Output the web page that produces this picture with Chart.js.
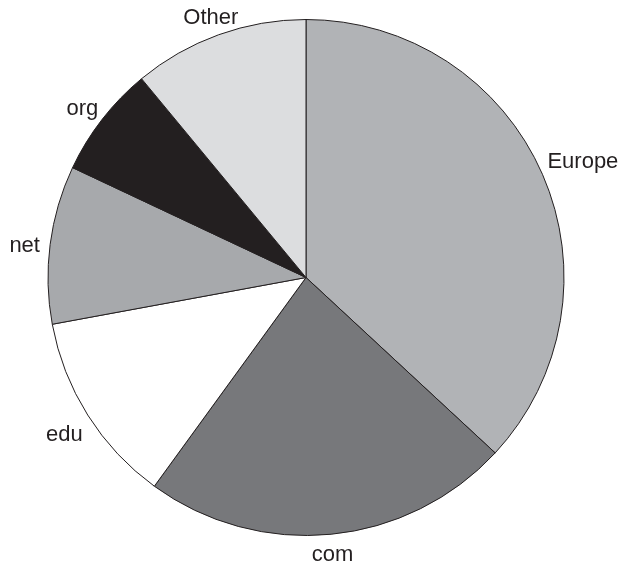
<!DOCTYPE html>
<html>
<head>
<meta charset="utf-8">
<script src="https://cdn.jsdelivr.net/npm/chart.js@4"></script>
<style>
  html, body { margin: 0; padding: 0; background: #fff; }
  #wrap { width: 626px; height: 564px; }
</style>
</head>
<body>
<div id="wrap"><canvas id="pie"></canvas></div>
<script>
// slice data, clockwise from 12 o'clock
const categories = ['Europe', 'com', 'edu', 'net', 'org', 'Other'];
const shares = [36.9, 23.1, 12.1, 9.9, 7.0, 11.0];
const sliceColors = ['#b1b3b6', '#77787b', '#ffffff', '#a7a9ac', '#231f20', '#dcdddf'];

// labels outside the rim, pushed out by half the text box
const outsideLabels = {
  id: 'outsideLabels',
  afterDatasetsDraw(chart) {
    const ctx = chart.ctx;
    const arcs = chart.getDatasetMeta(0).data;
    ctx.save();
    ctx.font = '22px "Liberation Sans", Arial, sans-serif';
    ctx.fillStyle = '#231f20';
    ctx.textAlign = 'center';
    ctx.textBaseline = 'middle';
    arcs.forEach((arc, i) => {
      const p = arc.getProps(['x', 'y', 'startAngle', 'endAngle', 'outerRadius'], true);
      const mid = (p.startAngle + p.endAngle) / 2;
      const text = chart.data.labels[i];
      const hw = ctx.measureText(text).width / 2;
      const hh = 4;
      const c = Math.cos(mid), s = Math.sin(mid);
      const r = p.outerRadius + 10 + hw * Math.abs(c) + hh * Math.abs(s);
      ctx.fillText(text, p.x + c * r, p.y + s * r + 5);
    });
    ctx.restore();
  }
};

new Chart(document.getElementById('pie'), {
  type: 'pie',
  data: {
    labels: categories,
    datasets: [{
      data: shares,
      backgroundColor: sliceColors,
      borderColor: '#231f20',
      borderWidth: 1
    }]
  },
  options: {
    responsive: true,
    maintainAspectRatio: false,
    animation: false,
    layout: { padding: { top: 19, bottom: 28, left: 47, right: 61 } },
    plugins: {
      legend: { display: false },
      tooltip: { enabled: false }
    }
  },
  plugins: [outsideLabels]
});
</script>
</body>
</html>
